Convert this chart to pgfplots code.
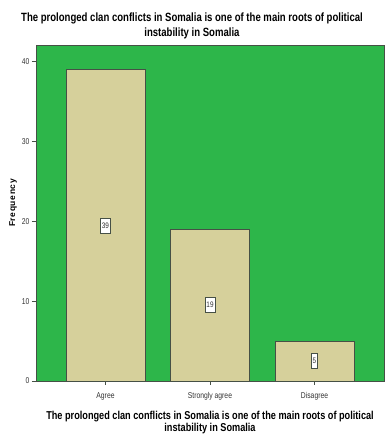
\documentclass[border=0pt]{standalone}
\usepackage{fontspec}
\setmainfont{Liberation Sans}
\newfontfamily\cond[FakeStretch=0.8]{Liberation Sans}
\newfontfamily\spaced[LetterSpace=7]{Liberation Sans}
\usepackage{pgfplots}
\pgfplotsset{compat=1.18}
\definecolor{bggreen}{RGB}{45,182,74}
\definecolor{bartan}{RGB}{214,208,155}
\definecolor{bordergray}{RGB}{70,80,70}
\begin{document}
\begin{tikzpicture}[x=1bp,y=1bp]
\useasboundingbox (0,0) rectangle (390,440);
\begin{axis}[
  at={(36bp,59bp)}, anchor=south west,
  scale only axis, width=348bp, height=336bp,
  axis background/.style={fill=bggreen},
  axis line style={draw=bordergray, line width=0.8pt},
  ymin=0, ymax=42.1,
  xmin=-0.665, xmax=2.665,
  xtick={0,1,2},
  xticklabels={Agree,Strongly agree,Disagree},
  ytick={0,10,20,30,40},
  tick align=outside,
  tick pos=left,
  major tick length=4bp,
  tick style={draw=bordergray, line width=0.6pt},
  ticklabel style={font=\cond\fontsize{8.5}{9}\selectfont, text=black!80},
  /pgf/number format/assume math mode=true,
  xticklabel style={yshift=-4bp},
  yticklabel style={xshift=1bp},
  ylabel={\bfseries\spaced Frequency},
  ylabel style={font=\fontsize{8.5}{9}\selectfont, at={(rel axis cs:0,0.5)}, anchor=center, xshift=10bp, yshift=23bp},
  xlabel={\textbf{The prolonged clan conflicts in Somalia is one of the main roots of political}\\\textbf{instability in Somalia}},
  xlabel style={font=\cond\fontsize{11.5}{12}\selectfont, align=center, at={(rel axis cs:0.5,0)}, anchor=north, yshift=-27bp, xshift=0bp},
  title={\textbf{The prolonged clan conflicts in Somalia is one of the main roots of political}\\\textbf{instability in Somalia}},
  title style={font=\cond\fontsize{12}{14.5}\selectfont, align=center, at={(rel axis cs:0.5,1)}, anchor=south, yshift=-3bp, xshift=-18bp},
  clip=false,
]
\addplot[ybar, bar width=0.755, fill=bartan, draw=bordergray, line width=0.8pt]
  coordinates {(0,39) (1,19) (2,5)};
\addplot[only marks, mark=none, point meta=explicit,
  nodes near coords,
  nodes near coords style={font=\cond\fontsize{8}{8}\selectfont, fill=white, draw=bordergray, line width=0.6pt, inner xsep=1.5bp, minimum height=15bp, anchor=center, text=black!80}]
  coordinates {(0,19.5) [39] (1,9.5) [19] (2,2.5) [5]};
\end{axis}
\end{tikzpicture}
\end{document}
